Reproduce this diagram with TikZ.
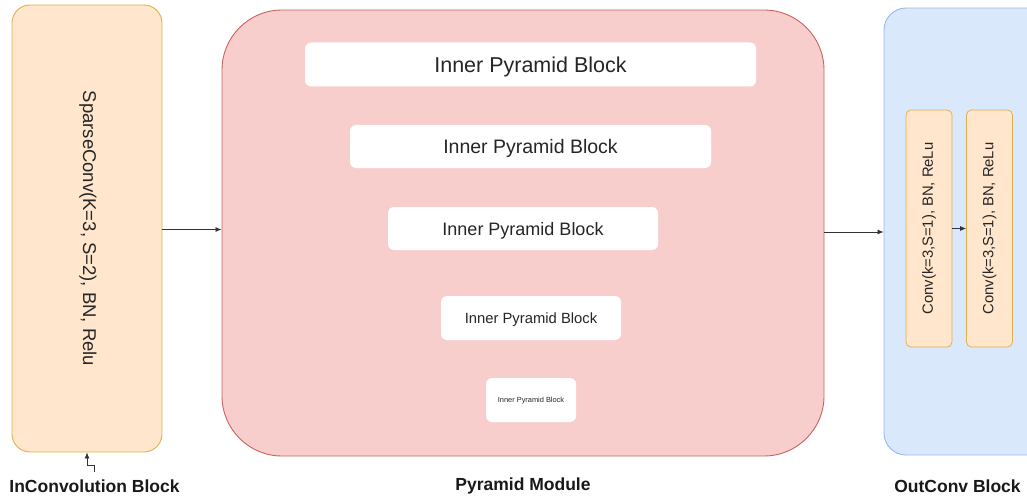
\documentclass[tikz,border=0pt]{standalone}
\usepackage{fontspec}
\setmainfont{Liberation Sans}
\usetikzlibrary{arrows.meta,calc}

\definecolor{orangefill}{HTML}{FFE6CC}
\definecolor{orangeline}{HTML}{E0B050}
\definecolor{redfill}{HTML}{F8CECC}
\definecolor{redline}{HTML}{C86460}
\definecolor{bluefill}{HTML}{DAE8FC}
\definecolor{blueline}{HTML}{9DB8E0}
\definecolor{arrowgray}{HTML}{333333}

\tikzset{
  outerblock/.style={draw, line width=0.9pt, inner sep=0pt, rectangle},
  inconvbox/.style={outerblock, fill=orangefill, draw=orangeline, rounded corners=18pt},
  pyrbox/.style={outerblock, fill=redfill, draw=redline, rounded corners=60pt},
  outbox/.style={outerblock, fill=bluefill, draw=blueline, rounded corners=22pt},
  innerblock/.style={rectangle, fill=white, rounded corners=6pt, inner sep=0pt,
    text depth=0pt, text=black!85},
  convbox/.style={rectangle, fill=orangefill, draw=orangeline, line width=0.8pt,
    rounded corners=5pt, inner sep=0pt, minimum width=46pt, minimum height=237pt},
  caption/.style={font=\bfseries\fontsize{17.5}{20}\selectfont, text=black!90},
  link/.style={draw=arrowgray, line width=0.8pt, -{Latex[length=6pt,width=5pt]}},
}

\begin{document}
\begin{tikzpicture}[x=1pt,y=-1pt]
\useasboundingbox (0,0) rectangle (1027,500);
\clip (0,0) rectangle (1027,500);

% input convolution block
\node[inconvbox, minimum width=150pt, minimum height=447pt] (in) at (87,228.5) {};
\node[rotate=-90, font=\fontsize{18.5}{22}\selectfont, text=black!85] (intext) at (88,228.5)
  {SparseConv(K=3, S=2), BN, Relu};

% pyramid module with its inner blocks
\node[pyrbox, minimum width=602pt, minimum height=446pt] (pyr) at (523,233) {};
\node[innerblock, minimum width=451pt, minimum height=44pt, font=\fontsize{21.5}{24}\selectfont]
  (p1) at (530.5,64.5) {Inner Pyramid Block};
\node[innerblock, minimum width=361pt, minimum height=43pt, font=\fontsize{19.5}{22}\selectfont]
  (p2) at (530.5,146.5) {Inner Pyramid Block};
\node[innerblock, minimum width=270pt, minimum height=43pt, font=\fontsize{18}{21}\selectfont]
  (p3) at (523,228.5) {Inner Pyramid Block};
\node[innerblock, minimum width=180pt, minimum height=44pt, font=\fontsize{14.8}{17}\selectfont]
  (p4) at (531,318) {Inner Pyramid Block};
\node[innerblock, minimum width=90pt, minimum height=44pt, font=\fontsize{7.4}{9}\selectfont]
  (p5) at (531,400) {Inner Pyramid Block};

% output convolution block
\node[outbox, minimum width=170pt, minimum height=447pt] (out) at (969,231.5) {};
\node[convbox] (c1) at (929,228.5) {};
\node[rotate=90, font=\fontsize{14.8}{17}\selectfont, text=black!85] at (c1.center)
  {Conv(k=3,S=1), BN, ReLu};
\node[convbox] (c2) at (989.5,228.5) {};
\node[rotate=90, font=\fontsize{14.8}{17}\selectfont, text=black!85] at (c2.center)
  {Conv(k=3,S=1), BN, ReLu};

% connectors
\coordinate (src) at (94,472);
\coordinate (jog) at (87,465);
\draw[link] (src) |- (jog) -- (in.south);
\draw[link] (in.east |- 0,229.5) -- (pyr.west |- 0,229.5);
\draw[link] (pyr.east |- 0,232) -- (out.west |- 0,232);
\draw[link] (c1.east) -- (c2.west);

% captions
\node[caption] (capin) at (94.5,486) {InConvolution Block};
\node[caption] (cappyr) at (523,486) {Pyramid Module};
\node[caption] (capout) at (957.5,486) {OutConv Block};
\end{tikzpicture}
\end{document}
